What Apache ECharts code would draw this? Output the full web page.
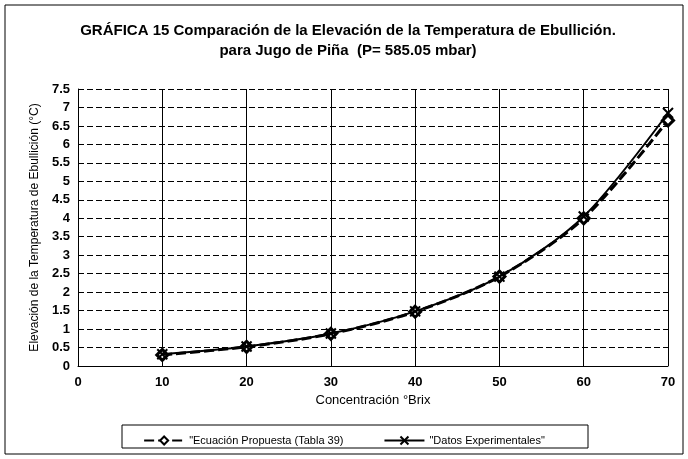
<!DOCTYPE html>
<html>
<head>
<meta charset="utf-8">
<script src="https://cdn.jsdelivr.net/npm/echarts@6/dist/echarts.min.js"></script>
<style>
  html, body { margin: 0; padding: 0; background: #fff; }
  #chart { width: 688px; height: 459px; }
</style>
</head>
<body>
<div id="chart"></div>
<script>
// Concentración (°Brix)
const brix = [10, 20, 30, 40, 50, 60, 70];
// Elevación de la temperatura de ebullición (°C)
const ecuacionPropuesta = [0.30, 0.52, 0.87, 1.47, 2.42, 4.00, 6.65];
const datosExperimentales = [0.32, 0.53, 0.88, 1.48, 2.42, 4.05, 6.85];
const yTicks = [0, 0.5, 1, 1.5, 2, 2.5, 3, 3.5, 4, 4.5, 5, 5.5, 6, 6.5, 7, 7.5];

const font = 'Liberation Sans, Arial, sans-serif';
const chart = echarts.init(document.getElementById('chart'));

const pairs = (ys) => brix.map((x, i) => [x, ys[i]]);

chart.setOption({
  backgroundColor: '#fff',
  animation: false,
  graphic: [
    { type: 'rect', shape: { x: 5, y: 5, width: 678, height: 449 },
      style: { fill: 'none', stroke: '#000', lineWidth: 1 } },
    { type: 'rect', shape: { x: 122, y: 425, width: 466, height: 23 },
      style: { fill: 'none', stroke: '#000', lineWidth: 1 } }
  ],
  title: {
    text: 'GRÁFICA 15 Comparación de la Elevación de la Temperatura de Ebullición.\npara Jugo de Piña  (P= 585.05 mbar)',
    left: 343, top: 16, textAlign: 'center',
    textStyle: { fontFamily: font, fontSize: 15, fontWeight: 'bold', color: '#000', lineHeight: 20 }
  },
  legend: {
    left: 'center', top: 430, itemGap: 40, itemWidth: 40, itemHeight: 10,
    textStyle: { fontFamily: font, fontSize: 11, color: '#000' },
    data: [
      { name: '"Ecuación Propuesta (Tabla 39)' },
      { name: '"Datos Experimentales"' }
    ]
  },
  grid: { left: 78, right: 20, top: 89, bottom: 93, containLabel: false },
  xAxis: {
    type: 'value', min: 0, max: 70, interval: 10,
    name: 'Concentración °Brix', nameLocation: 'middle', nameGap: 25,
    nameTextStyle: { fontFamily: font, fontSize: 13, color: '#000' },
    axisLine: { show: true, lineStyle: { color: '#000', width: 1 } },
    axisTick: { show: false },
    axisLabel: { fontFamily: font, fontSize: 13, fontWeight: 'bold', color: '#000', margin: 10 },
    splitLine: { show: true, lineStyle: { color: '#000', width: 1 } }
  },
  yAxis: {
    type: 'value', min: 0, max: 7.5, interval: 0.5,
    name: 'Elevación de la Temperatura de Ebullición (°C)', nameLocation: 'middle', nameGap: 32,
    nameTextStyle: { fontFamily: font, fontSize: 12, color: '#000' },
    axisLine: { show: true, lineStyle: { color: '#000', width: 1 } },
    axisTick: { show: false },
    axisLabel: { fontFamily: font, fontSize: 13, fontWeight: 'bold', color: '#000', margin: 8,
      formatter: (v) => yTicks.includes(v) ? String(v) : '' },
    splitLine: { show: true, lineStyle: { color: '#000', width: 1, type: [6, 3] } }
  },
  series: [
    {
      name: '"Ecuación Propuesta (Tabla 39)', type: 'line', smooth: 0.3,
      data: pairs(ecuacionPropuesta),
      symbol: 'diamond', symbolSize: 11,
      lineStyle: { color: '#000', width: 3, type: [10, 4] },
      itemStyle: { color: '#fff', borderColor: '#000', borderWidth: 3 },
      z: 3
    },
    {
      name: '"Datos Experimentales"', type: 'line', smooth: 0.3,
      data: pairs(datosExperimentales),
      symbol: 'path://M0,0L10,10M10,0L0,10', symbolSize: 10,
      lineStyle: { color: '#000', width: 2 },
      itemStyle: { color: '#000', borderColor: '#000', borderWidth: 2 },
      z: 4
    }
  ]
});
</script>
</body>
</html>
